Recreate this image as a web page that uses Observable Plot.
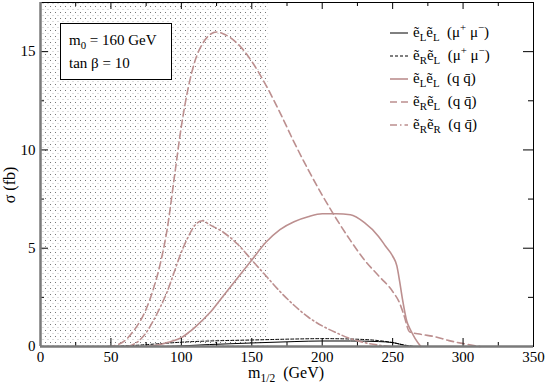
<!DOCTYPE html>
<html><head><meta charset="utf-8">
<script src="https://cdn.jsdelivr.net/npm/d3@7"></script>
<script src="https://cdn.jsdelivr.net/npm/@observablehq/plot@0.6"></script>
<style>body{margin:0;background:#fff}svg{display:block}</style>
</head><body><div id="chart"></div>
<script>
// ---- data ----
const hatchRange = [0, 162];            // shaded (dotted) m1/2 region, GeV
const xTicks = [0, 50, 100, 150, 200, 250, 300, 350];
const xMinor = [25, 75, 125, 175, 225, 275, 325];
const yTicks = [0, 5, 10, 15];
const yMinor = [2.5, 7.5, 12.5, 17.5];

// eL eL (mu+ mu-)
const llMu_x = [90, 100, 120, 150, 180, 200, 220, 240, 250, 255, 260, 265];
const llMu_y = [0, 0.03, 0.1, 0.18, 0.25, 0.28, 0.28, 0.25, 0.2, 0.12, 0.03, 0];
// eR eL (mu+ mu-)
const rlMu_x = [50, 60, 70, 80, 90, 100, 120, 150, 180, 200, 220, 240, 250, 258, 265];
const rlMu_y = [0, 0.03, 0.07, 0.12, 0.17, 0.22, 0.28, 0.33, 0.38, 0.4, 0.38, 0.3, 0.2, 0.08, 0];
// eL eL (q qbar)
const llQ_x = [75, 85, 90, 95, 100, 105, 110, 120, 130, 140, 150, 160, 170, 180, 190, 200, 210, 220, 230, 240, 245, 250, 253, 255, 257, 260, 263, 266, 270];
const llQ_y = [0, 0.1, 0.2, 0.3, 0.45, 0.7, 1.0, 1.7, 2.6, 3.5, 4.4, 5.3, 5.95, 6.35, 6.6, 6.75, 6.75, 6.7, 6.3, 5.6, 5.1, 4.6, 4.1, 3.3, 2.4, 1.3, 0.8, 0.4, 0];
// eR eL (q qbar)
const rlQ_x = [48, 55, 60, 65, 70, 75, 80, 85, 90, 95, 100, 105, 110, 115, 120, 125, 130, 135, 140, 145, 150, 160, 170, 180, 190, 200, 210, 220, 230, 240, 250, 255, 258, 262, 270, 280, 290, 300, 312];
const rlQ_y = [0, 0.1, 0.3, 0.7, 1.2, 1.9, 2.9, 4.2, 6.0, 8.6, 11.2, 13.2, 14.6, 15.4, 15.85, 16.0, 15.9, 15.7, 15.4, 15.0, 14.5, 13.3, 11.9, 10.4, 9.0, 7.7, 6.5, 5.4, 4.4, 3.6, 2.8, 2.2, 1.6, 0.75, 0.62, 0.5, 0.3, 0.15, 0];
// eR eR (q qbar)
const rrQ_x = [62, 70, 75, 80, 85, 90, 95, 100, 105, 110, 115, 120, 130, 140, 150, 160, 170, 180, 190, 200, 210, 220, 230, 240, 248];
const rrQ_y = [0, 0.3, 0.7, 1.3, 2.0, 2.8, 3.8, 4.8, 5.6, 6.2, 6.4, 6.2, 5.8, 5.2, 4.4, 3.6, 2.8, 2.1, 1.5, 1.05, 0.7, 0.4, 0.2, 0.07, 0];

// legend labels: [text, kind] where kind: n normal, b sub, p sup
const legendLabels = [
  [["ẽ","n"],["L","b"],["ẽ","n"],["L","b"],["  (μ","n"],["+","p"],[" μ","n"],["−","p"],[")","n"]],
  [["ẽ","n"],["R","b"],["ẽ","n"],["L","b"],["  (μ","n"],["+","p"],[" μ","n"],["−","p"],[")","n"]],
  [["ẽ","n"],["L","b"],["ẽ","n"],["L","b"],["  (q q\u0304)","n"]],
  [["ẽ","n"],["R","b"],["ẽ","n"],["L","b"],["  (q q\u0304)","n"]],
  [["ẽ","n"],["R","b"],["ẽ","n"],["R","b"],["  (q q\u0304)","n"]]
];
const boxLines = [[["m","n"],["0","b"],[" = 160 GeV","n"]], [["tan β = 10","n"]]];

const rows = (xs, ys) => xs.map((x, i) => ({x, y: ys[i]}));

const W = 545, H = 386, mL = 40, mR = 12, mT = 2, mB = 40;
const pw = W - mL - mR, ph = H - mT - mB;
const pink = "#bc8f8f";

const styles = [
  {stroke: "#000", strokeWidth: 1, strokeDasharray: null},
  {stroke: "#000", strokeWidth: 1, strokeDasharray: "3,2"},
  {stroke: pink, strokeWidth: 1.6, strokeDasharray: null},
  {stroke: pink, strokeWidth: 1.6, strokeDasharray: "7,4"},
  {stroke: pink, strokeWidth: 1.6, strokeDasharray: "7,3,1.5,3"}
];

const plot = Plot.plot({
  width: W, height: H,
  marginLeft: mL, marginRight: mR, marginTop: mT, marginBottom: mB,
  style: {fontFamily: "'Liberation Serif', 'DejaVu Serif', serif", fontSize: "15px", color: "#000", background: "#fff"},
  x: {domain: [0, 350], ticks: xTicks, tickSize: 0, tickPadding: 5, label: null},
  y: {domain: [0, 17.5], ticks: yTicks, tickSize: 0, tickPadding: 5, label: null},
  marks: [
    Plot.rect([{x1: hatchRange[0], x2: hatchRange[1]}], {x1: "x1", x2: "x2", fill: "url(#dots)"}),
    Plot.line(rows(rlMu_x, rlMu_y), {x: "x", y: "y", curve: "monotone-x", ...styles[1]}),
    Plot.line(rows(llMu_x, llMu_y), {x: "x", y: "y", curve: "monotone-x", ...styles[0]}),
    Plot.line(rows(llQ_x, llQ_y), {x: "x", y: "y", curve: "monotone-x", ...styles[2]}),
    Plot.line(rows(rlQ_x, rlQ_y), {x: "x", y: "y", curve: "monotone-x", ...styles[3]}),
    Plot.line(rows(rrQ_x, rrQ_y), {x: "x", y: "y", curve: "monotone-x", ...styles[4]}),
    // ticks (inward)
    Plot.tickX(xTicks, {x: d => d, insetTop: ph - 8, stroke: "#000"}),
    Plot.tickX(xMinor, {x: d => d, insetTop: ph - 4, stroke: "#000"}),
    Plot.tickX(xTicks, {x: d => d, insetBottom: ph - 7, stroke: "#000"}),
    Plot.tickX(xMinor, {x: d => d, insetBottom: ph - 4, stroke: "#000"}),
    Plot.tickY(yTicks, {y: d => d, insetRight: pw - 8, stroke: "#000"}),
    Plot.tickY(yMinor, {y: d => d, insetRight: pw - 4, stroke: "#000"}),
    Plot.tickY(yTicks, {y: d => d, insetLeft: pw - 10, stroke: "#000"}),
    Plot.tickY(yMinor, {y: d => d, insetLeft: pw - 5, stroke: "#000"}),
    Plot.frame({stroke: "#000"}),
    Plot.ruleY([0], {stroke: "#7a7a7a", strokeWidth: 2.5}),
    Plot.ruleX([0], {stroke: "#7a7a7a", strokeWidth: 2.5})
  ]
});

const svg = d3.select(plot);
// dotted pattern
const defs = svg.insert("defs", ":first-child");
const pat = defs.append("pattern").attr("id", "dots").attr("patternUnits", "userSpaceOnUse")
  .attr("width", 5).attr("height", 6);
pat.append("rect").attr("x", 0).attr("y", 0).attr("width", 1).attr("height", 1).attr("fill", "#777");
pat.append("rect").attr("x", 2.5).attr("y", 3).attr("width", 1).attr("height", 1).attr("fill", "#bbb");

function richText(g, parts, x, y, size) {
  const t = g.append("text").attr("x", x).attr("y", y).attr("font-size", size).attr("text-anchor", "start");
  let shift = 0;
  for (const [s, k] of parts) {
    const target = k === "b" ? 4 : k === "p" ? -6 : 0;
    t.append("tspan").attr("dy", target - shift).attr("font-size", k === "n" ? size : size * 0.72)
      .attr("xml:space", "preserve").style("white-space", "pre").text(s);
    shift = target;
  }
  return t;
}

const ann = svg.append("g").attr("font-family", "'Liberation Serif', 'DejaVu Serif', serif")
  .attr("fill", "#000").attr("text-anchor", "start");
// box
ann.append("rect").attr("x", 60.5).attr("y", 23.5).attr("width", 111).attr("height", 56)
  .attr("fill", "#fff").attr("stroke", "#000");
richText(ann, boxLines[0], 69, 45, 15);
richText(ann, boxLines[1], 69, 68, 15);

// legend
legendLabels.forEach((parts, i) => {
  const yc = 33 + 23 * i;
  const s = styles[i];
  const ln = ann.append("line").attr("x1", 390).attr("x2", 408).attr("y1", yc).attr("y2", yc)
    .attr("fill", "none").attr("stroke", s.stroke).attr("stroke-width", s.strokeWidth);
  if (s.strokeDasharray) ln.attr("stroke-dasharray", s.strokeDasharray);
  richText(ann, parts, 413, yc + 4, 15);
});

// axis labels
richText(ann, [["m","n"],["1/2","b"],["  (GeV)","n"]], 248, 378, 16);
ann.append("text").attr("transform", "translate(15,185) rotate(-90)").attr("text-anchor", "middle")
  .attr("font-size", 16).text("σ (fb)");

document.getElementById("chart").appendChild(plot);
</script>
</body></html>
